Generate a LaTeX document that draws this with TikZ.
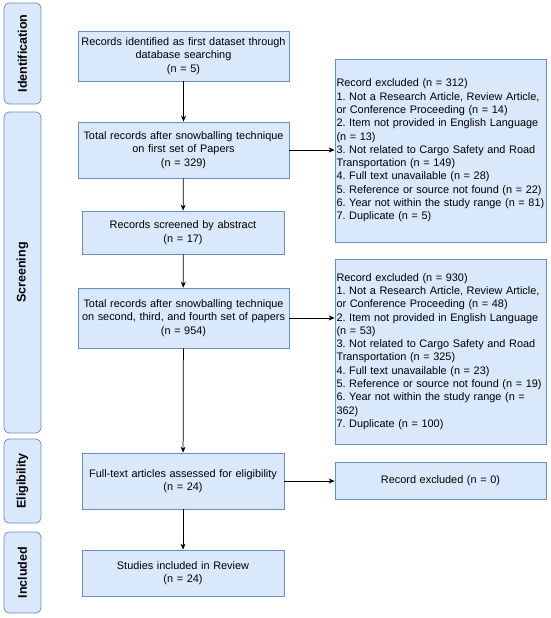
\documentclass[tikz,border=0pt]{standalone}
\usepackage{fontspec}
\setmainfont{Liberation Sans}
\usetikzlibrary{arrows.meta}
\definecolor{boxfill}{RGB}{218,232,252}
\definecolor{boxline}{RGB}{108,142,191}
\tikzset{every picture/.style={line width=0.75pt}}
\frenchspacing

\begin{document}
\begin{tikzpicture}[x=1pt,y=1pt,yscale=-1,xscale=1,
  stagebox/.style={draw=boxline,fill=boxfill,rounded corners=5pt,rotate=90,minimum height=37pt,inner sep=0pt,font=\fontsize{12.5}{14}\selectfont\bfseries},
  flowbox/.style={draw=boxline,fill=boxfill,inner sep=2pt,align=center,font=\fontsize{10.9}{13.4}\selectfont},
  exclbox/.style={draw=boxline,fill=boxfill,inner sep=1.5pt,align=left,text width=208pt,font=\fontsize{10.9}{13.3}\selectfont},
  flowarrow/.style={-{Stealth[length=6pt,width=5pt]}}]
\useasboundingbox (0,0) rectangle (550,618);

%Stage labels
\node (ident) at (22.5,53.5) [stagebox,minimum width=101pt] {Identification};
\node (screen) at (22.5,272.5) [stagebox,minimum width=321pt] {Screening};
\node (elig) at (22.5,481) [stagebox,minimum width=84pt] {Eligibility};
\node (incl) at (22.5,572.5) [stagebox,minimum width=81pt] {Included};

%Main flow
\node (first) at (183.5,56) [flowbox,text width=207pt,minimum height=50pt] {Records identified as first dataset through\\database searching\\(n = 5)};
\node (snowa) at (183.5,150) [flowbox,text width=207pt,minimum height=56pt] {Total records after snowballing technique\\on first set of Papers\\(n = 329)};
\node (abstr) at (183,232.5) [flowbox,text width=198pt,minimum height=43pt] {Records screened by abstract\\(n = 17)};
\node (snowb) at (183.5,318) [flowbox,text width=207pt,minimum height=60pt] {Total records after snowballing technique\\on second, third, and fourth set of papers\\(n = 954)};
\node (full) at (183,481) [flowbox,text width=198pt,minimum height=56pt] {Full-text articles assessed for eligibility\\(n = 24)};
\node (review) at (183,573) [flowbox,text width=198pt,minimum height=46pt] {Studies included in Review\\(n = 24)};

%Exclusions
\node (exa) at (440.5,150.5) [exclbox,minimum height=183pt] {Record excluded (n = 312)\\1. Not a Research Article, Review Article,\\or Conference Proceeding (n = 14)\\2. Item not provided in English Language\\(n = 13)\\3. Not related to Cargo Safety and Road\\Transportation (n = 149)\\4. Full text unavailable (n = 28)\\5. Reference or source not found (n = 22)\\6. Year not within the study range (n = 81)\\7. Duplicate (n = 5)};
\node (exb) at (440.5,351.5) [exclbox,minimum height=185pt] {Record excluded (n = 930)\\1. Not a Research Article, Review Article,\\or Conference Proceeding (n = 48)\\2. Item not provided in English Language\\(n = 53)\\3. Not related to Cargo Safety and Road\\Transportation (n = 325)\\4. Full text unavailable (n = 23)\\5. Reference or source not found (n = 19)\\6. Year not within the study range (n =\\362)\\7. Duplicate (n = 100)};
\node (exc) at (440.5,480.5) [flowbox,text width=207pt,minimum height=37pt] {Record excluded (n = 0)};

%Arrows
\draw [flowarrow] (first) -- (snowa);
\draw [flowarrow] (snowa) -- (abstr);
\draw [flowarrow] (abstr) -- (snowb);
\draw [flowarrow] (snowb) -- (full);
\draw [flowarrow] (full) -- (review);
\draw [flowarrow] (snowa.east) -- (snowa.east -| exa.west);
\draw [flowarrow] (snowb.east) -- (snowb.east -| exb.west);
\draw [flowarrow] (full.east) -- (full.east -| exc.west);

\end{tikzpicture}
\end{document}
